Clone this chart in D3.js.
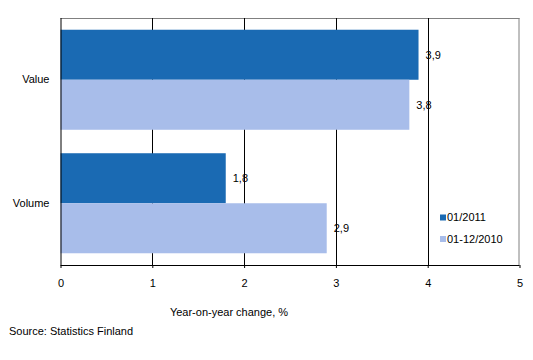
<!DOCTYPE html>
<html>
<head>
<meta charset="utf-8">
<script src="https://cdn.jsdelivr.net/npm/d3@7"></script>
<style>
  html, body { margin: 0; padding: 0; background: #fff; }
  svg text { font-family: Arial, "Liberation Sans", sans-serif; font-size: 11px; fill: #000; }
</style>
</head>
<body>
<svg id="chart" width="533" height="360"></svg>
<script>
const categories = ["Value", "Volume"];
const seriesNames = ["01/2011", "01-12/2010"];
const series2011 = [3.9, 1.8];
const series2010 = [3.8, 2.9];
const valueLabels2011 = ["3,9", "1,8"];
const valueLabels2010 = ["3,8", "2,9"];
const xTicks = [0, 1, 2, 3, 4, 5];
const colors = ["#1a6ab3", "#a8bdea"];

const svg = d3.select("#chart");
const pLeft = 60.5, pRight = 519.5, pTop = 18, pBottom = 265;

const x = d3.scaleLinear().domain([0, 5]).range([pLeft, pRight]);
const y = d3.scaleBand().domain(categories).range([pTop, pBottom]).padding(0);
const inner = d3.scaleBand().domain(seriesNames)
  .range([y.bandwidth() * 0.095, y.bandwidth() * 0.905]).padding(0);

// frame top/right (gray)
svg.append("line").attr("x1", pLeft).attr("x2", pRight).attr("y1", pTop + 0.5).attr("y2", pTop + 0.5)
  .attr("stroke", "#808080").attr("stroke-width", 1);
svg.append("line").attr("x1", pRight - 0.5).attr("x2", pRight - 0.5).attr("y1", pTop).attr("y2", pBottom)
  .attr("stroke", "#808080").attr("stroke-width", 1);

// gridlines
svg.append("g").selectAll("line").data(xTicks.slice(1, -1)).join("line")
  .attr("x1", d => Math.round(x(d)) + 0.5).attr("x2", d => Math.round(x(d)) + 0.5)
  .attr("y1", pTop).attr("y2", pBottom)
  .attr("stroke", "#000").attr("stroke-width", 1);

// bars
const data = categories.map((c, i) => ({
  cat: c,
  vals: [
    { s: seriesNames[0], v: series2011[i], lab: valueLabels2011[i], col: colors[0] },
    { s: seriesNames[1], v: series2010[i], lab: valueLabels2010[i], col: colors[1] }
  ]
}));

const groups = svg.append("g").selectAll("g").data(data).join("g")
  .attr("transform", d => `translate(0,${y(d.cat)})`);

groups.selectAll("rect").data(d => d.vals).join("rect")
  .attr("x", x(0))
  .attr("y", d => inner(d.s))
  .attr("width", d => x(d.v) - x(0))
  .attr("height", inner.bandwidth())
  .attr("fill", d => d.col);

groups.selectAll("text.val").data(d => d.vals).join("text")
  .attr("class", "val")
  .attr("x", d => x(d.v) + 7)
  .attr("y", d => inner(d.s) + inner.bandwidth() / 2)
  .attr("dy", "0.35em")
  .text(d => d.lab);

// x axis
const xAxis = d3.axisBottom(x).tickValues(xTicks).tickSize(3).tickPadding(11).tickFormat(d3.format("d"));
const gx = svg.append("g").attr("transform", `translate(0,${pBottom})`).call(xAxis);
gx.select(".domain").attr("stroke", "#000").attr("d", `M${pLeft},0.5H${pRight}`);
gx.selectAll(".tick line").attr("stroke", "#000");
gx.selectAll(".tick text").attr("font-size", null).attr("font-family", null);

// y axis
const yAxis = d3.axisLeft(y).tickSize(0).tickPadding(11);
const gy = svg.append("g").attr("transform", `translate(${pLeft},0)`).call(yAxis);
gy.select(".domain").attr("stroke", "#000").attr("d", `M0.5,${pTop}V${pBottom}`);
gy.selectAll(".tick text").attr("font-size", null).attr("font-family", null);

// axis title
svg.append("text").attr("x", 229).attr("y", 312).attr("dy", "0.35em")
  .attr("text-anchor", "middle").text("Year-on-year change, %");

// source
svg.append("text").attr("x", 9).attr("y", 331).attr("dy", "0.35em").text("Source: Statistics Finland");

// legend
const legend = svg.append("g").selectAll("g").data(seriesNames).join("g")
  .attr("transform", (d, i) => `translate(440,${217.5 + i * 21.5})`);
legend.append("rect").attr("x", 0).attr("y", -3).attr("width", 6).attr("height", 6)
  .attr("fill", (d, i) => colors[i]);
legend.append("text").attr("x", 7).attr("y", 0).attr("dy", "0.35em").text(d => d);
</script>
</body>
</html>
